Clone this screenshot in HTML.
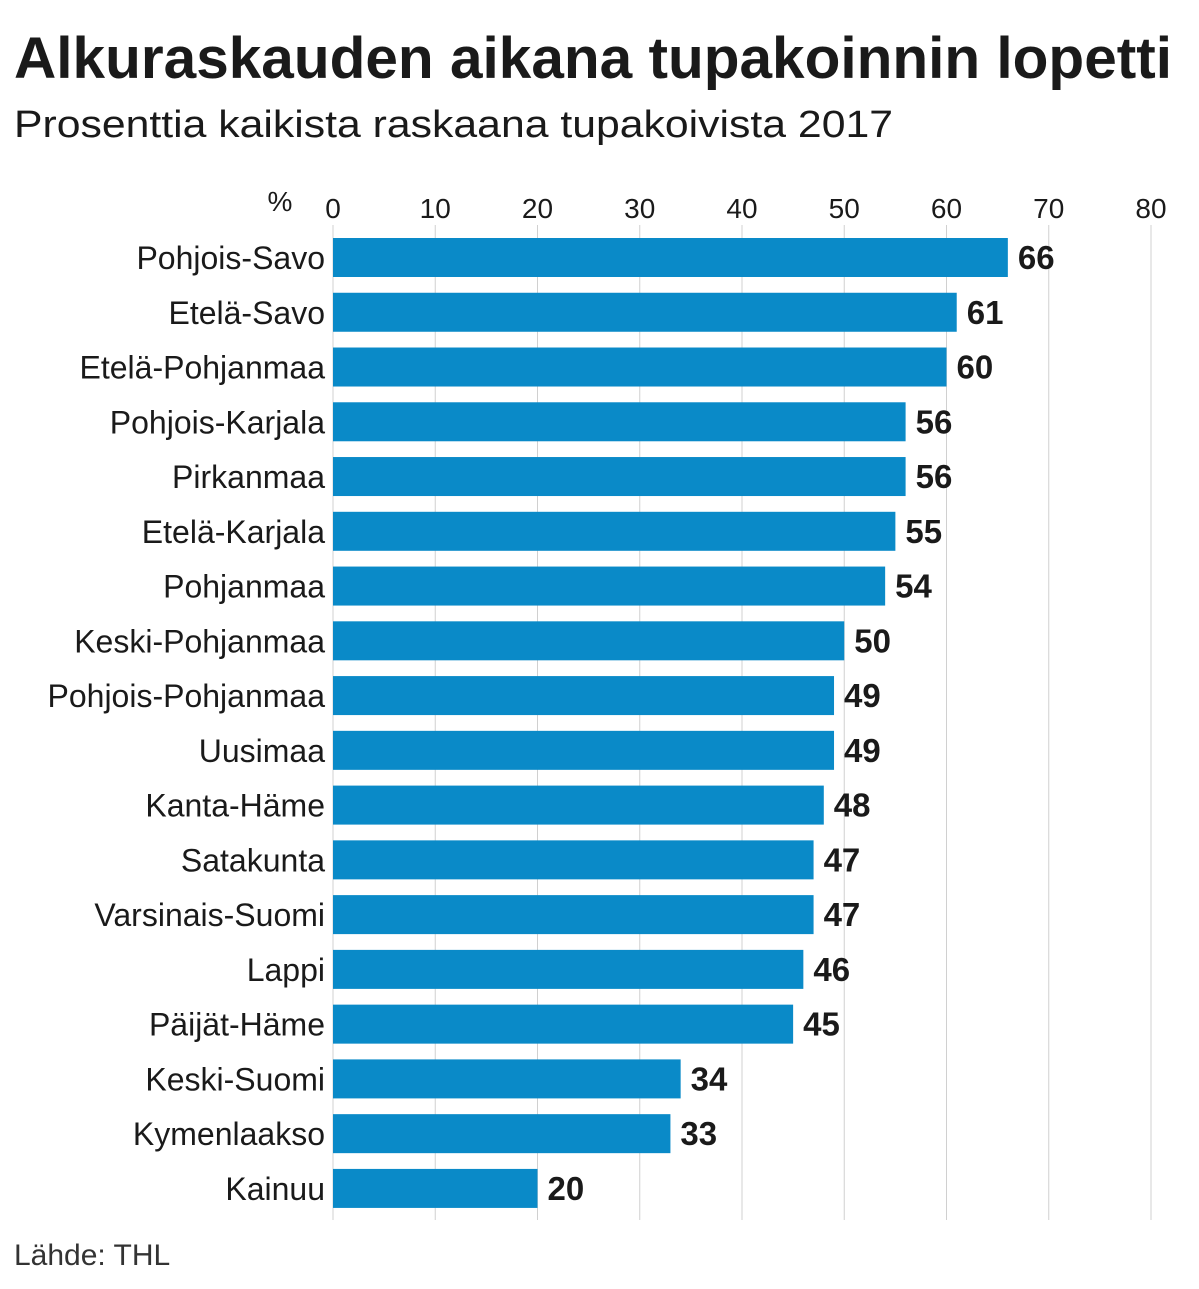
<!DOCTYPE html>
<html><head><meta charset="utf-8"><style>
html,body{margin:0;padding:0;background:#fff;}
svg{display:block;font-family:"Liberation Sans",sans-serif;}
</style></head><body>
<svg id="chart" width="1199" height="1289" viewBox="0 0 1199 1289" xmlns="http://www.w3.org/2000/svg">
<text x="14" y="78" font-size="58" font-weight="bold" fill="#1a1a1a" textLength="1158" lengthAdjust="spacingAndGlyphs">Alkuraskauden aikana tupakoinnin lopetti</text>
<text x="14" y="137" font-size="38" fill="#1a1a1a" textLength="879" lengthAdjust="spacingAndGlyphs">Prosenttia kaikista raskaana tupakoivista 2017</text>
<text x="280" y="211" font-size="28" fill="#1a1a1a" text-anchor="middle">%</text>
<g id="grid"></g><g id="bars"></g>
<text x="14" y="1265" font-size="30" fill="#333">Lähde: THL</text>
</svg>
<script>
const categories=["Pohjois-Savo","Etelä-Savo","Etelä-Pohjanmaa","Pohjois-Karjala","Pirkanmaa","Etelä-Karjala","Pohjanmaa","Keski-Pohjanmaa","Pohjois-Pohjanmaa","Uusimaa","Kanta-Häme","Satakunta","Varsinais-Suomi","Lappi","Päijät-Häme","Keski-Suomi","Kymenlaakso","Kainuu"];
const values=[66,61,60,56,56,55,54,50,49,49,48,47,47,46,45,34,33,20];
const ticks=[0,10,20,30,40,50,60,70,80];
const NS="http://www.w3.org/2000/svg";
const x=v=>333+v*(1151-333)/80;
const y=i=>238+i*54.76;
function mk(t,a,p){const e=document.createElementNS(NS,t);for(const k in a)e.setAttribute(k,a[k]);p.appendChild(e);return e;}
const grid=document.getElementById('grid'),bars=document.getElementById('bars');
ticks.forEach(t=>{
 const l=mk('line',{x1:x(t),x2:x(t),y1:225,y2:1220,stroke:'#d0d0d0','stroke-width':1},grid);
 
 
 const tx=mk('text',{x:x(t),y:218,'font-size':28,fill:'#1a1a1a','text-anchor':'middle'},grid);
 tx.textContent=t;
 
 
});
categories.forEach((c,i)=>{
 const lb=mk('text',{x:325,y:y(i)+31,'font-size':32,fill:'#1a1a1a','text-anchor':'end'},bars);
 lb.textContent=c;
 
 
 const r=mk('rect',{x:x(0),y:y(i),width:x(values[i])-x(0),height:39,fill:'#0a8ac8'},bars);
 
 
 const v=mk('text',{x:x(values[i])+10,y:y(i)+31,'font-size':33,'font-weight':'bold',fill:'#1a1a1a'},bars);
 v.textContent=values[i];
 
 
});
</script>
</body></html>
